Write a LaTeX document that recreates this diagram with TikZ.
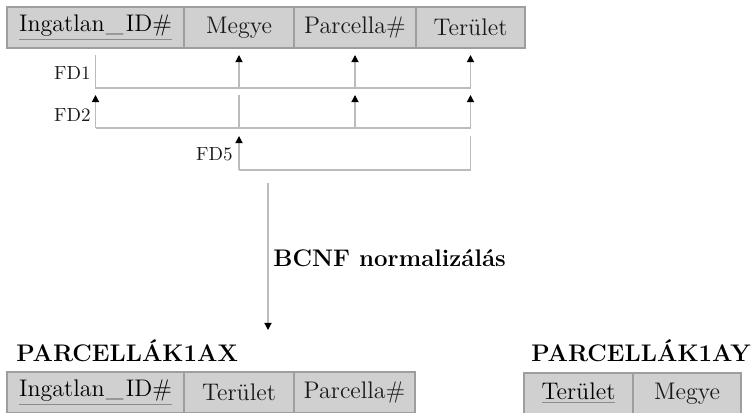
\documentclass[tikz,border=0pt]{standalone}
\usetikzlibrary{arrows.meta}
\definecolor{cellfill}{RGB}{208,208,208}
\definecolor{cellrule}{RGB}{158,158,158}
\definecolor{fdline}{RGB}{188,188,188}
\definecolor{keyrule}{RGB}{140,140,140}
% primary key attribute: grey underline under black text
\newcommand{\keyattr}[1]{{\color{keyrule}\underline{\color{black}#1}}}
\newcommand{\idname}{Ingatlan\kern0.6pt\_\kern1.2pt ID\#}
\begin{document}
\begin{tikzpicture}[x=0.5pt,y=-0.5pt,
  cell/.style={draw=cellrule, fill=cellfill, line width=0.6pt, inner sep=0pt,
    outer sep=0pt, minimum height=20.5pt, anchor=north west,
    font=\fontsize{12}{14}\selectfont, text=black!90},
  fd/.style={draw=fdline, line width=0.6pt},
  fdtip/.style={fd, -{Triangle[length=3.6pt,width=3.6pt,fill=black,color=black]}},
  fdlab/.style={anchor=east, inner sep=0pt, font=\fontsize{9.5}{11}\selectfont, text=black!90},
  title/.style={anchor=west, inner sep=0pt, font=\fontsize{12}{14}\selectfont\bfseries}]
\useasboundingbox (0,0) rectangle (753,412);
\clip (0,0) rectangle (753,412);

% source relation
\node[cell, minimum width=88.5pt] (t1) at (7,7) {\keyattr{\idname}};
\node[cell, minimum width=55pt]   (t2) at (t1.north east) {Megye};
\node[cell, minimum width=61pt]   (t3) at (t2.north east) {Parcella\#};
\node[cell, minimum width=54.5pt] (t4) at (t3.north east) {Terület};

% rows of the dependency diagram
\coordinate (a1) at (0,55);  \coordinate (h1) at (0,88);
\coordinate (a2) at (0,95);  \coordinate (h2) at (0,128);
\coordinate (a3) at (0,136); \coordinate (h3) at (0,170);

% FD1: Ingatlan_ID# -> Megye, Parcella#, Terület
\draw[fd] (t1.south |- a1) |- (t4.south |- h1);
\draw[fdtip] (t2.south |- h1) -- (t2.south |- a1);
\draw[fdtip] (t3.south |- h1) -- (t3.south |- a1);
\draw[fdtip] (t4.south |- h1) -- (t4.south |- a1);
\node[fdlab] (l1) at (91,73) {FD1};

% FD2: Megye, Parcella# -> ...
\draw[fd] (t2.south |- a2) |- (t1.south |- h2);
\draw[fd] (t2.south |- h2) -- (t4.south |- h2);
\draw[fdtip] (t1.south |- h2) -- (t1.south |- a2);
\draw[fdtip] (t3.south |- h2) -- (t3.south |- a2);
\draw[fdtip] (t4.south |- h2) -- (t4.south |- a2);
\node[fdlab] (l2) at (91,115) {FD2};

% FD5: Terület -> Megye
\draw[fd] (t4.south |- a3) |- (t2.south |- h3);
\draw[fdtip] (t2.south |- h3) -- (t2.south |- a3);
\node[fdlab] (l5) at (233,154) {FD5};

% decomposition step
\coordinate (dtop) at (268,183);
\coordinate (dbot) at (268,330);
\draw[fdtip] (dtop) -- (dbot);
\node[title] (bcnf) at (273,258) {BCNF normalizálás};

% resulting relations
\node[title] (rx) at (16,351) {PARCELLÁK1AX};
\node[cell, minimum width=88.5pt] (x1) at (7,372) {\keyattr{\idname}};
\node[cell, minimum width=55pt]   (x2) at (x1.north east) {Terület};
\node[cell, minimum width=60.5pt] (x3) at (x2.north east) {Parcella\#};

\node[title] (ry) at (531,351) {PARCELLÁK1AY};
\node[cell, minimum width=54.5pt] (y1) at (524,373) {\keyattr{Terület}};
\node[cell, minimum width=54pt]   (y2) at (y1.north east) {Megye};
\end{tikzpicture}
\end{document}
